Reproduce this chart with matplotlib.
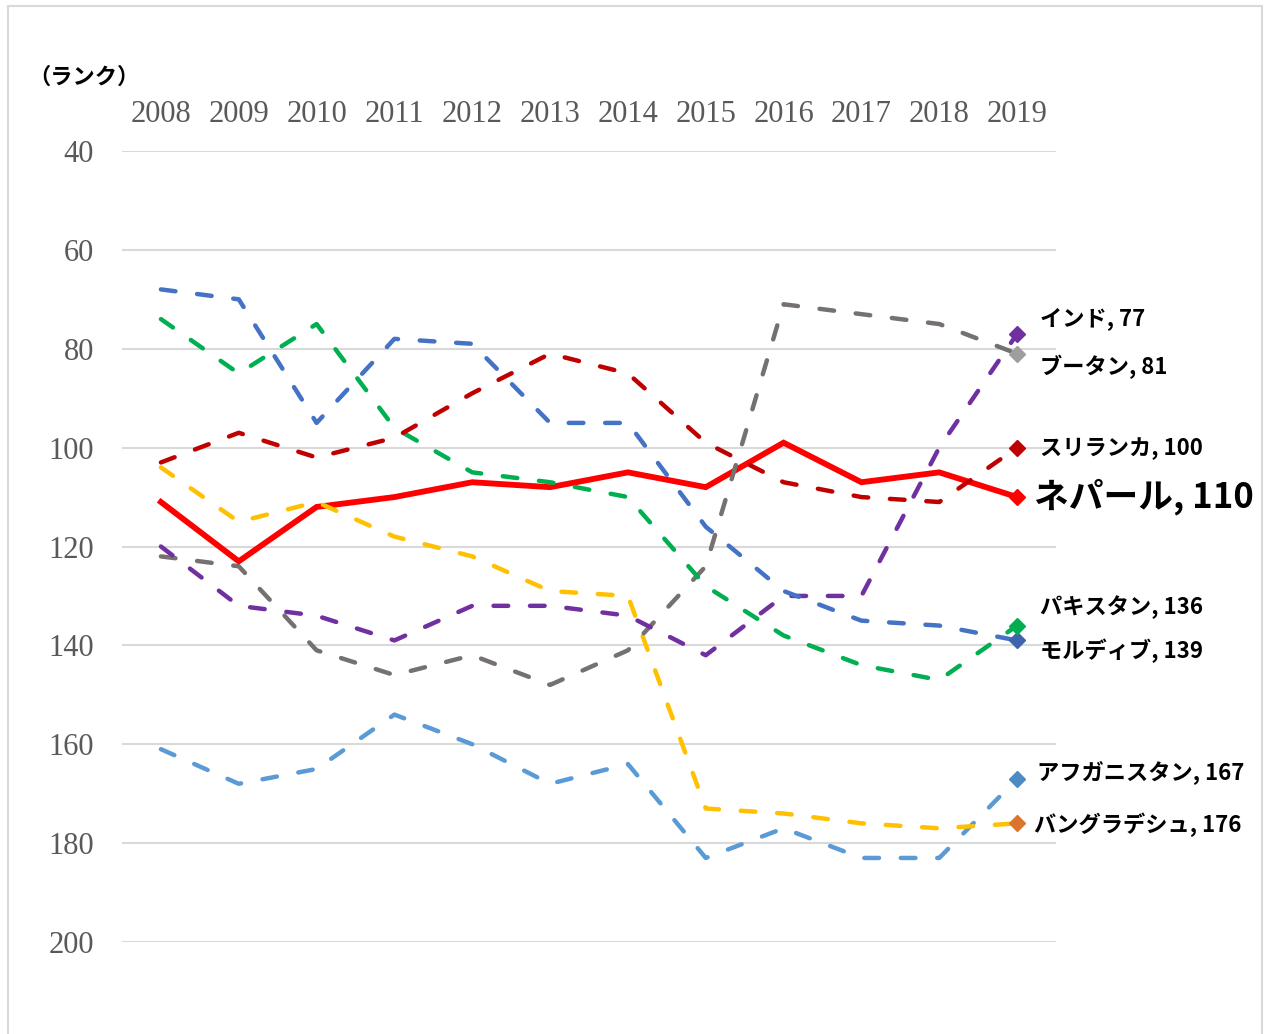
import matplotlib
matplotlib.use('Agg')
import matplotlib.pyplot as plt
from matplotlib.patches import Rectangle

# world rank by year (smaller = better)
years = list(range(2008, 2020))

afghanistan = [161, 168, 165, 154, 160, 168, 164, 183, 177, 183, 183, 167]
bangladesh = [104, 115, 111, 118, 122, 129, 130, 173, 174, 176, 177, 176]
bhutan = [122, 124, 141, 146, 142, 148, 141, 124, 71, 73, 75, 81]
india = [120, 132, 134, 139, 132, 132, 134, 142, 130, 130, 100, 77]
maldives = [68, 70, 95, 78, 79, 95, 95, 116, 129, 135, 136, 139]
pakistan = [74, 85, 75, 96, 105, 107, 110, 128, 138, 144, 147, 136]
nepal = [111, 123, 112, 110, 107, 108, 105, 108, 99, 107, 105, 110]
sri_lanka = [103, 97, 102, 98, 89, 81, 85, 99, 107, 110, 111, 100]

# name, values, line colour, marker colour, label offset (px), label size
series = [
    ('ネパール', nepal, '#FF0000', '#FF0000', (17, 0), 25),
    ('アフガニスタン', afghanistan, '#5B9BD5', '#4E8BC4', (20, 7), 16),
    ('バングラデシュ', bangladesh, '#FFC000', '#D9752E', (17, -1), 16),
    ('ブータン', bhutan, '#767171', '#9E9E9E', (23, -13), 16),
    ('インド', india, '#7030A0', '#7030A0', (23, 15), 16),
    ('モルディブ', maldives, '#4472C4', '#3E64AE', (23, -10), 16),
    ('パキスタン', pakistan, '#00B050', '#00B050', (23, 18), 16),
    ('スリランカ', sri_lanka, '#C00000', '#C00000', (23, -1), 16),
]

jp_font = ['Noto Sans CJK JP', 'DejaVu Sans']

fig = plt.figure(figsize=(12.66, 10.34), dpi=100)
ax = fig.add_axes([122 / 1266, 1 - 942 / 1034, (1056 - 122) / 1266, (942 - 151) / 1034])

for name, vals, lc, mc, off, fs in series:
    if name == 'ネパール':
        ax.plot(years, vals, color=lc, lw=4.2, solid_joinstyle='miter', zorder=3)
    else:
        ax.plot(years, vals, color=lc, lw=3.2, ls=(0, (3.3, 4.9)),
                dash_capstyle='round', zorder=4)
    ax.plot(years[-1], vals[-1], marker='D', ms=8.5, color=mc, mec=mc, zorder=5,
            clip_on=False)
    ax.annotate(f'{name}, {vals[-1]}', xy=(years[-1], vals[-1]), xytext=off,
                textcoords='offset pixels', ha='left', va='center',
                fontsize=fs, fontweight='bold', family=jp_font, color='black',
                annotation_clip=False)

ax.set_xlim(2007.5, 2019.5)
ax.set_ylim(200, 40)
ax.set_yticks(range(40, 201, 20))
ax.set_xticks(years)
ax.xaxis.tick_top()
ax.tick_params(axis='both', length=0, labelsize=22, labelcolor='#595959')
ax.tick_params(axis='y', pad=20)
ax.tick_params(axis='x', pad=16)
for lab in ax.get_xticklabels() + ax.get_yticklabels():
    lab.set_family('Liberation Serif')

ax.grid(axis='y', color='#D9D9D9', lw=1.5)
ax.set_axisbelow(True)
for s in ax.spines.values():
    s.set_visible(False)

fig.text(28 / 1266, 1 - 77 / 1034, '（ランク）', fontsize=16, fontweight='bold',
         family=jp_font, ha='left', va='center')

# outer chart frame
fig.patches.append(Rectangle((8 / 1266, -0.02), (1262 - 8) / 1266, 1.02 - 6 / 1034,
                             transform=fig.transFigure, fill=False,
                             edgecolor='#D9D9D9', lw=1.5))

fig.savefig('out.png', dpi=100)
